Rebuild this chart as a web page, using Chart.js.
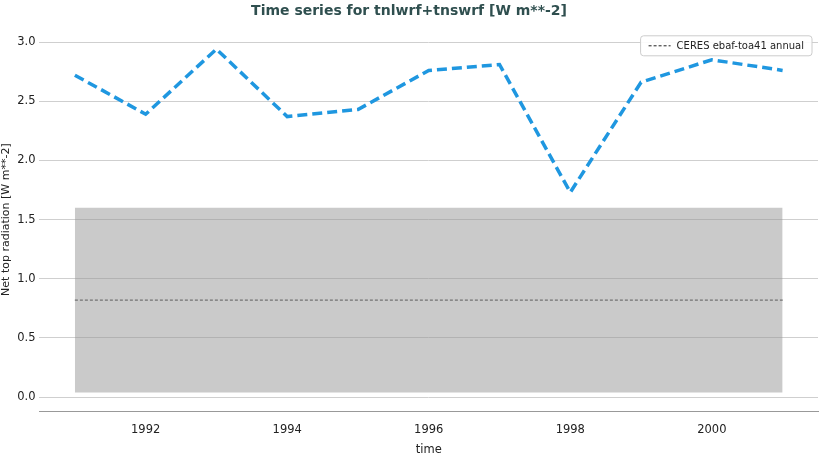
<!DOCTYPE html>
<html><head><meta charset="utf-8">
<script src="https://cdn.jsdelivr.net/npm/chart.js@4"></script>
<style>html,body{margin:0;padding:0;background:#fff}#w{width:820px;height:457px}</style>
</head><body><div id="w"><canvas id="c"></canvas></div>
<script>
const years=[1991,1992,1993,1994,1995,1996,1997,1998,1999,2000,2001];
const values=[2.72,2.39,2.94,2.37,2.43,2.76,2.81,1.73,2.66,2.85,2.76];
const obsMean=0.82, obsLow=0.04, obsHigh=1.6;
const obsYears=[1991,2001];
const xTicks=[1992,1994,1996,1998,2000];
const F="'DejaVu Sans', sans-serif";
const legendPlugin={id:'lg',afterDraw(ch){
  const c=ch.ctx,a=ch.chartArea;c.save();
  c.font="10px "+F;const t="CERES ebaf-toa41 annual";
  const tw=c.measureText(t).width;const w=tw+44,h=20,x=a.right-w-6,y=a.top+8;
  c.fillStyle='rgba(255,255,255,0.9)';c.strokeStyle='#ccc';c.lineWidth=1;
  c.beginPath();c.roundRect(x,y,w,h,3);c.fill();c.stroke();
  c.strokeStyle='#222';c.setLineDash([3,2]);c.beginPath();c.moveTo(x+8,y+10);c.lineTo(x+30,y+10);c.stroke();
  c.setLineDash([]);c.fillStyle='#222';c.textBaseline='middle';c.fillText(t,x+36,y+10.5);c.restore();}};
new Chart(document.getElementById('c'),{type:'line',
data:{datasets:[
 {data:obsYears.map(x=>({x,y:obsHigh})),borderWidth:0,pointRadius:0,fill:'+1',backgroundColor:'rgba(150,150,150,0.5)'},
 {data:obsYears.map(x=>({x,y:obsLow})),borderWidth:0,pointRadius:0,fill:false},
 {data:obsYears.map(x=>({x,y:obsMean})),borderColor:'#222',borderWidth:1,borderDash:[3,2],pointRadius:0},
 {data:years.map((x,i)=>({x,y:values[i]})),borderColor:'#1f97e0',borderWidth:3.5,borderDash:[10,5],pointRadius:0,tension:0}
]},
options:{responsive:true,maintainAspectRatio:false,animation:false,
 layout:{padding:{left:0,right:2,top:3,bottom:0}},
 plugins:{legend:{display:false},tooltip:{enabled:false},
  title:{display:true,text:'Time series for tnlwrf+tnswrf [W m**-2]',color:'#2f4f4f',font:{family:F,size:14,weight:'bold'},padding:{top:0,bottom:8}}},
 scales:{
  x:{type:'linear',min:1990.5,max:2001.5,afterBuildTicks(s){s.ticks=xTicks.map(v=>({value:v}));},
   grid:{display:false,drawTicks:true,tickLength:6},border:{color:'#999'},
   ticks:{color:'#222',padding:6,font:{family:F,size:11.5},callback:v=>String(v)},
   title:{display:true,text:'time',color:'#222',font:{family:F,size:11.5},padding:0}},
  y:{min:-0.12,max:3.12,afterBuildTicks(s){s.ticks=[0,0.5,1,1.5,2,2.5,3].map(v=>({value:v}));},
   grid:{color:'#cfcfcf',drawTicks:false},border:{display:false},
   ticks:{color:'#222',padding:4,font:{family:F,size:11.5},callback:v=>v.toFixed(1)},
   title:{display:true,text:'Net top radiation [W m**-2]',color:'#222',font:{family:F,size:11},padding:0}}
 }},plugins:[legendPlugin]});
</script></body></html>
